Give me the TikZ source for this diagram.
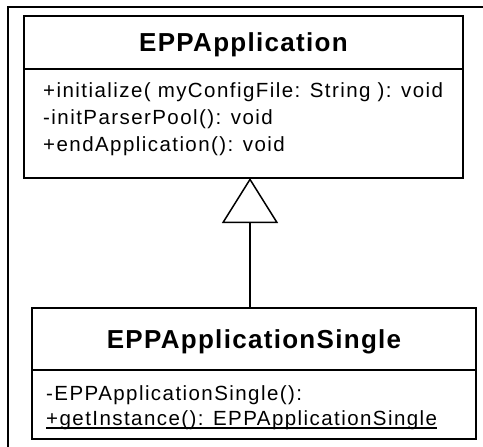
\documentclass[tikz,border=0pt]{standalone}
\usepackage{fontspec}
\usetikzlibrary{arrows.meta,positioning}
\newfontfamily\classtitlefont{Liberation Sans Bold}[LetterSpace=5]
\newfontfamily\memberfont{Liberation Sans}[LetterSpace=7]

\tikzset{
  classhead/.style={draw, line width=1.5pt, outer sep=0pt, inner sep=0pt,
    text height=21pt, text depth=2.5pt,
    font=\classtitlefont\fontsize{26}{26}\selectfont},
  classbody/.style={draw, line width=1.5pt, outer sep=0pt, inner sep=0pt},
  member/.style={anchor=base west, inner sep=0pt,
    font=\memberfont\fontsize{20.5}{20.5}\selectfont},
  generalization/.style={line width=1.5pt,
    -{Triangle[length=45pt, width=56pt, fill=white]}},
}

\begin{document}
\begin{tikzpicture}[x=1pt, y=-1pt]
    \useasboundingbox (0,0) rectangle (483,447);
    %% frame round the picture
    \draw[line width=2pt] (7.5,447) -- (7.5,6.5) -- (483,6.5);

    %% EPPApplication
    \node[classhead, minimum width=439pt, minimum height=53pt] (apphead) at (243.5,42.5) {EPPApplication};
    \node[classbody, minimum width=439pt, minimum height=109pt,
      below=0pt of apphead] (appbody) {};
    \node[member] (initialize) at (43,97) {+initialize( myConfigFile: String ): void};
    \node[member] (initpool) at (43,124) {-initParserPool(): void};
    \node[member] (endapp) at (43,151) {+endApplication(): void};

    %% EPPApplicationSingle
    \node[classhead, minimum width=444pt, minimum height=62pt] (singlehead) at (254,339) {EPPApplicationSingle};
    \node[classbody, minimum width=444pt, minimum height=69pt,
      below=0pt of singlehead] (singlebody) {};
    \node[member] (singlector) at (46,400) {-EPPApplicationSingle():};
    \node[member] (getinstance) at (46,425) {+getInstance(): EPPApplicationSingle};
    \draw[line width=1.2pt] ([yshift=-3pt]getinstance.base west) -- ([yshift=-3pt]getinstance.base east);

    %% generalization
    \coordinate (gentip) at (250,178);
    \draw[generalization] (singlehead.north -| gentip) -- (gentip);

\end{tikzpicture}
\end{document}
